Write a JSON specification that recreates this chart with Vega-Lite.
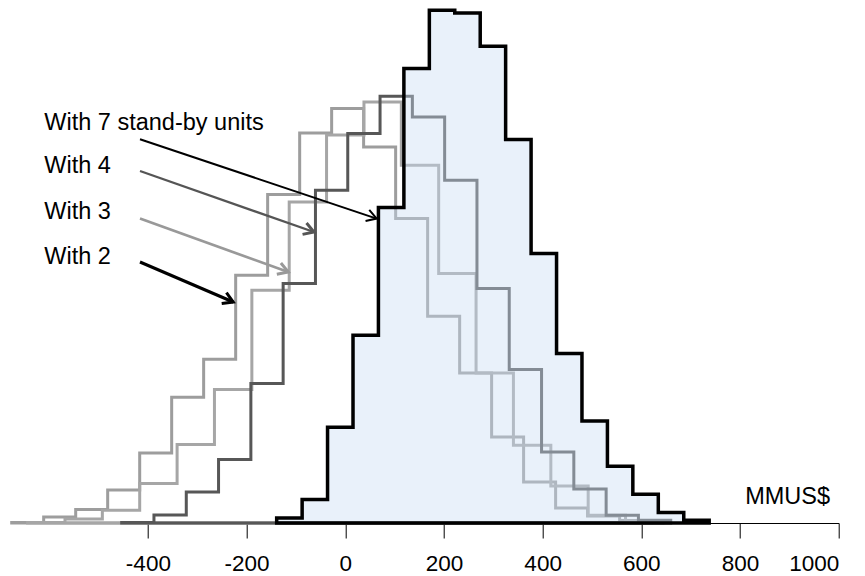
{
  "$schema": "https://vega.github.io/schema/vega-lite/v6.json",
  "autosize": "none",
  "width": 827,
  "height": 520,
  "padding": {"left": 11.7, "top": 3, "right": 26.3, "bottom": 53},
  "background": "white",
  "datasets": {
    "with2": [
      {"x": -676, "h": 0.6}, {"x": -611.2, "h": 6}, {"x": -546.3, "h": 13.4}, {"x": -481.5, "h": 33},
      {"x": -416.6, "h": 70}, {"x": -351.8, "h": 125.7}, {"x": -287, "h": 163.7}, {"x": -222.1, "h": 247.7},
      {"x": -157.3, "h": 328.4}, {"x": -92.4, "h": 390}, {"x": -27.6, "h": 414.4}, {"x": 37.2, "h": 376},
      {"x": 102.1, "h": 304.4}, {"x": 166.9, "h": 206.7}, {"x": 231.8, "h": 150}, {"x": 296.6, "h": 86},
      {"x": 361.4, "h": 41}, {"x": 426.3, "h": 15}, {"x": 491.1, "h": 7}, {"x": 556, "h": 2.5},
      {"x": 620.8, "h": 0}
    ],
    "with3": [
      {"x": -643.8, "h": 0.6}, {"x": -568, "h": 4}, {"x": -492.3, "h": 12.7}, {"x": -416.6, "h": 39.4},
      {"x": -340.8, "h": 78.4}, {"x": -265.1, "h": 133.4}, {"x": -189.3, "h": 232.7}, {"x": -113.6, "h": 321},
      {"x": -37.9, "h": 388}, {"x": 37.9, "h": 421}, {"x": 113.6, "h": 357.7}, {"x": 189.3, "h": 249.4},
      {"x": 265.1, "h": 150}, {"x": 340.8, "h": 77.7}, {"x": 416.6, "h": 37}, {"x": 492.3, "h": 7.7},
      {"x": 568, "h": 2}, {"x": 643.8, "h": 0}
    ],
    "with4": [
      {"x": -453.1, "h": 0.6}, {"x": -387.7, "h": 8}, {"x": -322.2, "h": 31}, {"x": -256.8, "h": 63.5},
      {"x": -191.3, "h": 139.4}, {"x": -125.9, "h": 239.4}, {"x": -60.4, "h": 332.7}, {"x": 5.05, "h": 389.4},
      {"x": 70.5, "h": 426.7}, {"x": 136, "h": 406}, {"x": 201.4, "h": 342.7}, {"x": 266.9, "h": 234.4},
      {"x": 332.3, "h": 153.4}, {"x": 397.8, "h": 71}, {"x": 463.2, "h": 34}, {"x": 528.7, "h": 7.7},
      {"x": 594.1, "h": 2.7}, {"x": 659.6, "h": 0}
    ],
    "with7": [
      {"x": -139, "h": 5}, {"x": -87.4, "h": 23.4}, {"x": -35.9, "h": 95.7}, {"x": 15.7, "h": 187.7},
      {"x": 67.2, "h": 315.4}, {"x": 118.8, "h": 454.4}, {"x": 170.4, "h": 512.7}, {"x": 221.9, "h": 510},
      {"x": 273.5, "h": 476.7}, {"x": 325, "h": 383.4}, {"x": 376.6, "h": 269.4}, {"x": 428.2, "h": 169.4},
      {"x": 479.7, "h": 102}, {"x": 531.3, "h": 56.7}, {"x": 582.8, "h": 28.7}, {"x": 634.4, "h": 10.4},
      {"x": 686, "h": 2.7}, {"x": 737.5, "h": 0}
    ],
    "arrows": [
      {"label": "With 7", "x": -416, "y": 383.7, "x2": 63.6, "y2": 304.4},
      {"label": "With 4", "x": -416, "y": 352, "x2": -63.4, "y2": 291},
      {"label": "With 3", "x": -416, "y": 304.4, "x2": -115.5, "y2": 251},
      {"label": "With 2", "x": -416, "y": 261, "x2": -227, "y2": 221}
    ],
    "notes": [
      {"label": "With 7 stand-by units", "x": -610, "y": 393.4},
      {"label": "With 4", "x": -610, "y": 350},
      {"label": "With 3", "x": -610, "y": 304.4},
      {"label": "With 2", "x": -610, "y": 259.4},
      {"label": "MMUS$", "x": 810.5, "y": 18.7}
    ]
  },
  "config": {
    "view": {"stroke": null},
    "axis": {
      "domainColor": "#000000", "domainWidth": 1,
      "tickColor": "#000000", "tickWidth": 1, "tickSize": 15,
      "labelFont": "Liberation Sans", "labelFontSize": 22.5, "labelColor": "#000000",
      "labelPadding": 14, "grid": false, "labelExpr": "'' + datum.value"
    }
  },
  "layer": [
    {
      "data": {"name": "with2"},
      "mark": {"type": "area", "interpolate": "step-after", "fill": "transparent", "stroke": "#9d9d9d", "strokeWidth": 3, "strokeJoin": "miter"},
      "encoding": {
        "x": {"field": "x", "type": "quantitative", "scale": {"domain": [-676, 1000], "nice": false, "zero": false}, "axis": {"values": [-400, -200, 0, 200, 400, 600, 800, 1000], "title": null}},
        "y": {"field": "h", "type": "quantitative", "scale": {"domain": [0, 520], "nice": false}, "axis": null}
      }
    },
    {
      "data": {"name": "with3"},
      "mark": {"type": "area", "interpolate": "step-after", "fill": "transparent", "stroke": "#a6a6a6", "strokeWidth": 3, "strokeJoin": "miter"},
      "encoding": {
        "x": {"field": "x", "type": "quantitative", "scale": {"domain": [-676, 1000], "nice": false, "zero": false}, "axis": {"values": [-400, -200, 0, 200, 400, 600, 800, 1000], "title": null}},
        "y": {"field": "h", "type": "quantitative", "scale": {"domain": [0, 520], "nice": false}, "axis": null}
      }
    },
    {
      "data": {"name": "with4"},
      "mark": {"type": "area", "interpolate": "step-after", "fill": "transparent", "stroke": "#575757", "strokeWidth": 3, "strokeJoin": "miter"},
      "encoding": {
        "x": {"field": "x", "type": "quantitative", "scale": {"domain": [-676, 1000], "nice": false, "zero": false}, "axis": {"values": [-400, -200, 0, 200, 400, 600, 800, 1000], "title": null}},
        "y": {"field": "h", "type": "quantitative", "scale": {"domain": [0, 520], "nice": false}, "axis": null}
      }
    },
    {
      "data": {"name": "with7"},
      "mark": {"type": "area", "interpolate": "step-after", "fill": "#c9dcf2", "fillOpacity": 0.4, "stroke": "#000000", "strokeWidth": 3.5, "strokeJoin": "miter"},
      "encoding": {
        "x": {"field": "x", "type": "quantitative", "scale": {"domain": [-676, 1000], "nice": false, "zero": false}, "axis": {"values": [-400, -200, 0, 200, 400, 600, 800, 1000], "title": null}},
        "y": {"field": "h", "type": "quantitative", "scale": {"domain": [0, 520], "nice": false}, "axis": null}
      }
    },
    {
      "data": {"name": "arrows"},
      "mark": {"type": "rule", "strokeCap": "butt"},
      "encoding": {
        "x": {"field": "x", "type": "quantitative", "scale": {"domain": [-676, 1000], "nice": false, "zero": false}, "axis": {"values": [-400, -200, 0, 200, 400, 600, 800, 1000], "title": null}},
        "y": {"field": "y", "type": "quantitative", "scale": {"domain": [0, 520], "nice": false}, "axis": null},
        "x2": {"field": "x2"},
        "y2": {"field": "y2"},
        "color": {"field": "label", "type": "nominal", "scale": {"domain": ["With 7", "With 4", "With 3", "With 2"], "range": ["#000000", "#555555", "#999999", "#000000"]}, "legend": null},
        "strokeWidth": {"field": "label", "type": "nominal", "scale": {"domain": ["With 7", "With 4", "With 3", "With 2"], "range": [2, 3, 3, 3]}, "legend": null}
      }
    },
    {
      "data": {"name": "arrows"},
      "transform": [{"filter": "datum.label === 'With 7'"}],
      "mark": {"type": "point", "shape": "M-1,-0.6L0,0L-1,0.6", "filled": false, "size": 380, "strokeWidth": 2, "color": "#000000", "opacity": 1, "angle": 18.5, "strokeJoin": "miter"},
      "encoding": {
        "x": {"field": "x2", "type": "quantitative", "scale": {"domain": [-676, 1000], "nice": false, "zero": false}, "axis": {"values": [-400, -200, 0, 200, 400, 600, 800, 1000], "title": null}},
        "y": {"field": "y2", "type": "quantitative", "scale": {"domain": [0, 520], "nice": false}, "axis": null}
      }
    },
    {
      "data": {"name": "arrows"},
      "transform": [{"filter": "datum.label === 'With 4'"}],
      "mark": {"type": "point", "shape": "M-1,-0.6L0,0L-1,0.6", "filled": false, "size": 400, "strokeWidth": 3, "color": "#555555", "opacity": 1, "angle": 19.3, "strokeJoin": "miter"},
      "encoding": {
        "x": {"field": "x2", "type": "quantitative", "scale": {"domain": [-676, 1000], "nice": false, "zero": false}, "axis": {"values": [-400, -200, 0, 200, 400, 600, 800, 1000], "title": null}},
        "y": {"field": "y2", "type": "quantitative", "scale": {"domain": [0, 520], "nice": false}, "axis": null}
      }
    },
    {
      "data": {"name": "arrows"},
      "transform": [{"filter": "datum.label === 'With 3'"}],
      "mark": {"type": "point", "shape": "M-1,-0.6L0,0L-1,0.6", "filled": false, "size": 400, "strokeWidth": 3, "color": "#999999", "opacity": 1, "angle": 19.8, "strokeJoin": "miter"},
      "encoding": {
        "x": {"field": "x2", "type": "quantitative", "scale": {"domain": [-676, 1000], "nice": false, "zero": false}, "axis": {"values": [-400, -200, 0, 200, 400, 600, 800, 1000], "title": null}},
        "y": {"field": "y2", "type": "quantitative", "scale": {"domain": [0, 520], "nice": false}, "axis": null}
      }
    },
    {
      "data": {"name": "arrows"},
      "transform": [{"filter": "datum.label === 'With 2'"}],
      "mark": {"type": "point", "shape": "M-1,-0.6L0,0L-1,0.6", "filled": false, "size": 400, "strokeWidth": 3, "color": "#000000", "opacity": 1, "angle": 23.2, "strokeJoin": "miter"},
      "encoding": {
        "x": {"field": "x2", "type": "quantitative", "scale": {"domain": [-676, 1000], "nice": false, "zero": false}, "axis": {"values": [-400, -200, 0, 200, 400, 600, 800, 1000], "title": null}},
        "y": {"field": "y2", "type": "quantitative", "scale": {"domain": [0, 520], "nice": false}, "axis": null}
      }
    },
    {
      "data": {"name": "notes"},
      "mark": {"type": "text", "align": "left", "baseline": "alphabetic", "font": "Liberation Sans", "fontSize": 23.5, "color": "#000000"},
      "encoding": {
        "x": {"field": "x", "type": "quantitative", "scale": {"domain": [-676, 1000], "nice": false, "zero": false}, "axis": {"values": [-400, -200, 0, 200, 400, 600, 800, 1000], "title": null}},
        "y": {"field": "y", "type": "quantitative", "scale": {"domain": [0, 520], "nice": false}, "axis": null},
        "text": {"field": "label", "type": "nominal"}
      }
    }
  ]
}
